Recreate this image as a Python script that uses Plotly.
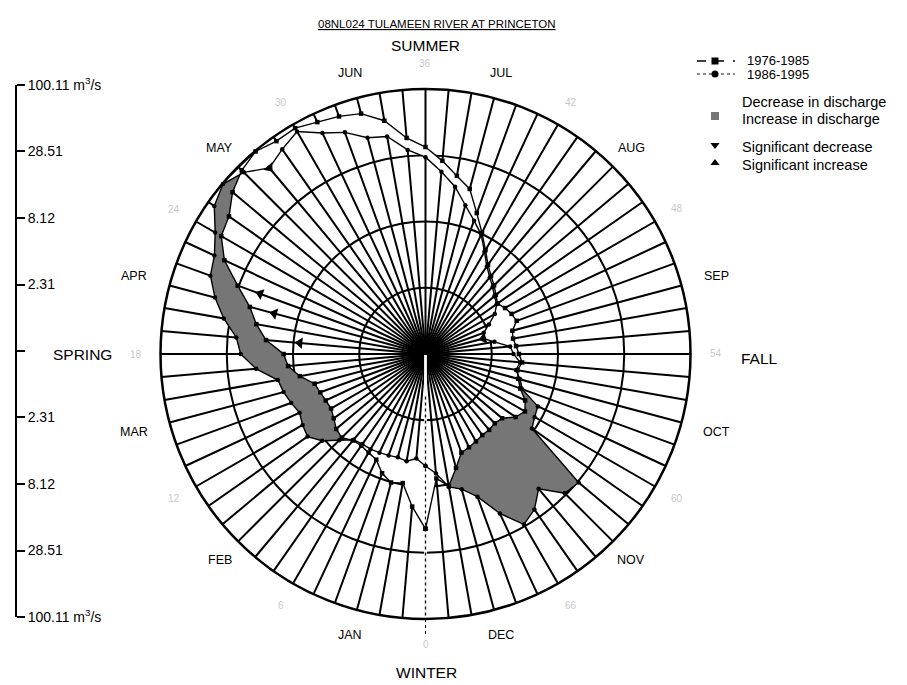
import numpy as np
import plotly.graph_objects as go

# ---------------- data ----------------
periods = list(range(72))  # 5-day periods, 0 = 1 January, clockwise
flow_1976_1985 = [18.1, 12.0, 7.9, 8.2, 7.3, 6.0, 5.7, 5.5, 5.6, 6.2,
                  6.0, 5.5, 5.2, 5.3, 5.5, 5.8, 7.4, 9.0, 9.7, 13.7,
                  17.1, 20.7, 29.1, 44.2, 57.6, 62.2, 78.0, 90.8, 99.0, 90.8,
                  92.5, 84.2, 79.5, 73.7, 58.7, 40.2, 33.3, 26.0, 20.3, 16.8,
                  11.3, 8.3, 6.4, 5.2, 4.55, 4.14, 3.76, 3.49, 3.76, 3.98,
                  4.14, 3.62, 3.55, 3.69, 3.87, 4.14, 3.87, 4.06, 4.46, 5.29,
                  5.81, 5.29, 4.38, 4.22, 4.30, 4.30, 4.46, 4.63, 4.81, 6.16,
                  8.34, 7.03]
flow_1986_1995 = [5.5, 4.81, 5.19, 5.0, 5.09, 5.19, 5.29, 5.29, 5.5, 6.64,
                  8.5, 10.1, 9.7, 9.17, 9.89, 10.67, 11.29, 16.5, 21.9, 24.1,
                  32.0, 41.0, 50.5, 54.5, 65.8, 87.4, 99.0, 85.8, 65.8, 75.1,
                  85.8, 67.05, 57.6, 45.9, 43.4, 32.0, 27.5, 21.1, 16.5, 12.2,
                  9.7, 8.0, 6.16, 5.0, 4.38, 3.98, 3.62, 3.42, 3.0, 2.48,
                  2.13, 2.05, 2.48, 3.30, 3.49, 3.98, 3.76, 4.22, 4.63, 6.90,
                  7.17, 7.73, 29.1, 27.5, 18.5, 24.1, 27.5, 18.5, 11.7, 9.34,
                  8.5, 6.4]
sig_increase_periods = [19, 21, 22]
sig_increase_values = [7.2, 12.8, 18.5]
sig_decrease_periods = [28, 51]
sig_decrease_values = [65.8, 2.05]

ring_values = [2.31, 8.12, 28.51, 100.11]
ring_labels = ["2.31", "8.12", "28.51", "100.11 m<sup>3</sup>/s"]
center_value = 0.658
month_labels = ["JAN", "FEB", "MAR", "APR", "MAY", "JUN",
                "JUL", "AUG", "SEP", "OCT", "NOV", "DEC"]
period_labels = [str(p) for p in range(0, 72, 6)]
season_labels = ["WINTER", "SPRING", "SUMMER", "FALL"]
title_text = "08NL024 TULAMEEN RIVER AT PRINCETON"
legend_labels = ["1976-1985", "1986-1995", "Decrease in discharge",
                 "Increase in discharge", "Significant decrease",
                 "Significant increase"]

# ---------------- geometry / style ----------------
W, H = 907, 685
CX, CY, R = 425.5, 354.0, 265.0
FONT = "Liberation Sans, Arial, Helvetica, sans-serif"
GREY = "#767676"
DEG_PER_PERIOD = 360 / len(periods)

A = np.array(flow_1976_1985, dtype=float)
B = np.array(flow_1986_1995, dtype=float)
theta = [p * DEG_PER_PERIOD for p in periods]
rho_max = np.log10(ring_values[-1] / center_value)


def to_xy(th, val):
    rho = np.log10(val / center_value)
    t = np.radians(th)
    return rho * np.cos(t), rho * np.sin(t)


def from_xy(x, y):
    return float(np.degrees(np.arctan2(y, x)) % 360), float(center_value * 10 ** np.hypot(x, y))


def crossing(i, j):
    a1 = np.array(to_xy(theta[i], A[i])); a2 = np.array(to_xy(theta[j], A[j]))
    b1 = np.array(to_xy(theta[i], B[i])); b2 = np.array(to_xy(theta[j], B[j]))
    M = np.array([a2 - a1, -(b2 - b1)]).T
    t, s = np.linalg.solve(M, b1 - a1)
    p = a1 + t * (a2 - a1)
    return from_xy(p[0], p[1])


def px(x, y):
    return x / W, 1 - y / H


n = len(periods)
sgn = np.sign(np.log(B) - np.log(A))
cross = {}
for i in range(n):
    j = (i + 1) % n
    if sgn[i] != sgn[j]:
        cross[i] = crossing(i, j)

fig = go.Figure()

# ---- fills between the two periods (grey = increase, white = decrease) ----
keys = sorted(cross)
for idx, k in enumerate(keys):
    m = keys[(idx + 1) % len(keys)]
    inds = []
    i = (k + 1) % n
    while True:
        inds.append(i)
        if i == m:
            break
        i = (i + 1) % n
    c0, c1 = cross[k], cross[m]
    th = [c0[0]] + [theta[q] for q in inds] + [c1[0]] + [theta[q] for q in reversed(inds)] + [c0[0]]
    rr = [c0[1]] + [B[q] for q in inds] + [c1[1]] + [A[q] for q in reversed(inds)] + [c0[1]]
    col = GREY if sgn[inds[0]] > 0 else "white"
    fig.add_trace(go.Scatterpolar(r=rr, theta=th, mode="lines", fill="toself",
                                  fillcolor=col, line=dict(width=0, color=col),
                                  hoverinfo="skip", showlegend=False))

# ---- spoke 0 drawn dotted ----
fig.add_trace(go.Scatterpolar(r=[center_value * 1.02, ring_values[-1]], theta=[0, 0], mode="lines",
                              line=dict(color="white", width=2.8), hoverinfo="skip", showlegend=False))
fig.add_trace(go.Scatterpolar(r=[center_value * 10 ** 0.35, ring_values[-1]], theta=[0, 0], mode="lines",
                              line=dict(color="black", width=1.2, dash="dot"), hoverinfo="skip", showlegend=False))

# ---- the two series ----
fig.add_trace(go.Scatterpolar(r=list(A) + [A[0]], theta=theta + [theta[0]], mode="lines+markers",
                              name=legend_labels[0], line=dict(color="black", width=1.4),
                              marker=dict(symbol="square", size=4.5, color="black"), showlegend=False))
fig.add_trace(go.Scatterpolar(r=list(B) + [B[0]], theta=theta + [theta[0]], mode="lines+markers",
                              name=legend_labels[1], line=dict(color="black", width=1.4),
                              marker=dict(symbol="circle", size=4.5, color="black"), showlegend=False))

# ---- significance triangles (pointing outward = increase, inward = decrease) ----
fig.add_trace(go.Scatterpolar(r=sig_increase_values, theta=[p * DEG_PER_PERIOD for p in sig_increase_periods],
                              mode="markers", showlegend=False,
                              marker=dict(symbol="triangle-up", size=10, color="black",
                                          angle=[(180 + p * DEG_PER_PERIOD) % 360 for p in sig_increase_periods])))
fig.add_trace(go.Scatterpolar(r=sig_decrease_values, theta=[p * DEG_PER_PERIOD for p in sig_decrease_periods],
                              mode="markers", showlegend=False,
                              marker=dict(symbol="triangle-up", size=10, color="black",
                                          angle=[(p * DEG_PER_PERIOD) % 360 for p in sig_decrease_periods])))

# ---- MAY box at the rim ----
box_th = [130.8, 140.7, 140.7, 130.8, 130.8]
box_r = [center_value * 10 ** (rho_max * f) for f in (1.0, 1.0, 1.055, 1.055, 1.0)]
fig.add_trace(go.Scatterpolar(r=box_r, theta=box_th, mode="lines", cliponaxis=False,
                              line=dict(color="black", width=1.5), hoverinfo="skip", showlegend=False))

# ---- dummy trace so the left scale axis renders ----
fig.add_trace(go.Scatter(x=[0.5], y=[0], xaxis="x", yaxis="y", mode="markers",
                         marker=dict(opacity=0), hoverinfo="skip", showlegend=False))

# ---- legend glyphs on a full-page pixel axis ----
fig.add_trace(go.Scatter(x=[715, 715], y=[61, 74], xaxis="x2", yaxis="y2", mode="markers",
                         marker=dict(symbol=["square", "circle"], size=7, color="black"),
                         cliponaxis=False, hoverinfo="skip", showlegend=False))
fig.add_trace(go.Scatter(x=[715, 715], y=[145, 163], xaxis="x2", yaxis="y2", mode="markers",
                         marker=dict(symbol=["triangle-down", "triangle-up"], size=8, color="black"),
                         cliponaxis=False, hoverinfo="skip", showlegend=False))

shapes = [
    dict(type="line", xref="x2", yref="y2", x0=697, x1=735, y0=61, y1=61,
         line=dict(color="black", width=1.3, dash="dash"), layer="below"),
    dict(type="line", xref="x2", yref="y2", x0=697, x1=735, y0=74, y1=74,
         line=dict(color="#666666", width=1.3, dash="dot"), layer="below"),
    dict(type="rect", xref="x2", yref="y2", x0=711, x1=719, y0=112, y1=120,
         fillcolor=GREY, line=dict(width=0)),
    # dotted extension of spoke 0 below the rim
    dict(type="line", xref="x2", yref="y2", x0=CX, x1=CX, y0=CY + R, y1=CY + R + 16,
         line=dict(color="black", width=1, dash="dot")),
]

annotations = []


def label(x0, y0, text, size, color="black", xanchor="center"):
    x, y = px(x0, y0)
    annotations.append(dict(x=x, y=y, xref="paper", yref="paper", xanchor=xanchor,
                            yanchor="middle", showarrow=False, text=text,
                            font=dict(size=size, family=FONT, color=color)))


# title
label(437, 24, "<u>" + title_text + "</u>", 11.5)
# months
for k, mname in enumerate(month_labels):
    ang = np.radians(15 + 30 * k)
    r_lab = 291 + max(0.0, abs(np.sin(ang)) - 0.7) * 40
    label(CX - r_lab * np.sin(ang), CY + r_lab * np.cos(ang), mname, 12.5)
# faint period numbers
for k, lab in enumerate(period_labels):
    ang = np.radians(30 * k)
    label(CX - 290 * np.sin(ang), CY + 290 * np.cos(ang), lab, 10, "#c8c8c8")
# seasons
season_pos = {"WINTER": (CX + 1, 672), "SPRING": (82, 354), "SUMMER": (CX, 46), "FALL": (759, 358)}
for s in season_labels:
    label(season_pos[s][0], season_pos[s][1], s, 15.5)
# legend texts
leg_pos = [(745, 60), (745, 75), (740, 102), (740, 119), (740, 147), (740, 165)]
leg_size = [13, 13, 14.5, 14.5, 14.5, 14.5]
for lab, (x0, y0), sz in zip(legend_labels, leg_pos, leg_size):
    label(x0, y0, lab, sz, xanchor="left")

# left scale (mirrored log scale)
ytickvals = [np.log10(v / center_value) for v in ring_values[::-1]] + [0] + \
            [-np.log10(v / center_value) for v in ring_values]
yticktext = ring_labels[::-1] + [""] + ring_labels

fig.update_layout(
    width=W, height=H, margin=dict(l=0, r=0, t=0, b=0, autoexpand=False),
    paper_bgcolor="white", plot_bgcolor="rgba(0,0,0,0)", showlegend=False,
    font=dict(family=FONT, color="black"),
    polar=dict(
        domain=dict(x=[(CX - R) / W, (CX + R) / W], y=[(H - CY - R) / H, (H - CY + R) / H]),
        bgcolor="white",
        radialaxis=dict(type="log", range=[np.log10(center_value), np.log10(ring_values[-1])],
                        tickmode="array", tickvals=ring_values[:-1], showticklabels=False, ticks="",
                        showline=False, gridcolor="black", gridwidth=2),
        angularaxis=dict(rotation=270, direction="clockwise", tickmode="array", tickvals=theta,
                         showticklabels=False, ticks="", gridcolor="black", gridwidth=1.5,
                         showline=True, linecolor="black", linewidth=2.5),
    ),
    xaxis=dict(domain=[0, 15 / W], range=[0, 1], visible=False, fixedrange=True),
    yaxis=dict(domain=[(H - 617) / H, (H - 85) / H], range=[-rho_max, rho_max], anchor="x",
               side="right", showline=True, linecolor="black", linewidth=1.8, ticks="outside",
               ticklen=8, tickwidth=1.5, tickcolor="black", tickmode="array", tickvals=ytickvals,
               ticktext=yticktext, showgrid=False, zeroline=False, automargin=False,
               tickfont=dict(size=14, family=FONT, color="black")),
    xaxis2=dict(domain=[0, 1], range=[0, W], visible=False, anchor="y2"),
    yaxis2=dict(domain=[0, 1], range=[H, 0], visible=False, anchor="x2"),
    shapes=shapes, annotations=annotations,
)

fig.write_html("out.html", config={"displayModeBar": False},
               post_script="document.body.style.margin='0';document.body.style.overflow='hidden';")
